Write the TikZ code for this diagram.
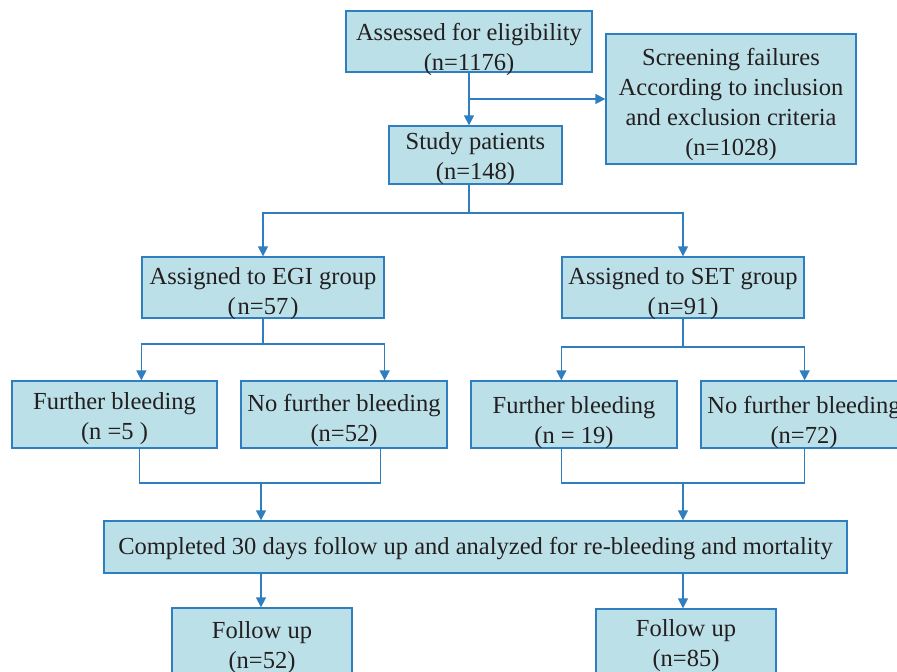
\documentclass[tikz,border=0pt]{standalone}
\usepackage{fontspec}
\setmainfont{Liberation Serif}
\usetikzlibrary{arrows.meta}
\definecolor{boxfill}{RGB}{188,224,232}
\definecolor{boxline}{RGB}{46,126,192}
\definecolor{txt}{RGB}{35,31,32}
\newcommand{\btext}[2]{\raisebox{-\dimexpr#1+2pt\relax}[0pt][0pt]{\begin{tabular}{@{}c@{}}#2\end{tabular}}}
\tikzset{
  box/.style={draw=boxline, fill=boxfill, line width=1.3pt, inner sep=0pt,
    text=txt, font=\fontsize{24.5}{30}\selectfont},
  link/.style={draw=boxline, line width=1.3pt},
  arr/.style={link, -{Triangle[length=10pt,width=10pt]}}
}
\begin{document}
\begin{tikzpicture}[x=1pt,y=-1pt]
\useasboundingbox (0,0) rectangle (897,672);
\node[box, minimum width=246pt, minimum height=61pt] (assess) at (469,41.5) {\btext{12pt}{Assessed for eligibility\\(n=1176)}};
\node[box, minimum width=250pt, minimum height=130pt] (screen) at (731,99) {\btext{9.5pt}{Screening failures\\According to inclusion\\and exclusion criteria\\(n=1028)}};
\node[box, minimum width=173pt, minimum height=58pt] (study) at (475.5,155) {\btext{8pt}{Study patients\\(n=148)}};
\node[box, minimum width=242pt, minimum height=61pt] (egi) at (263,287.5) {\btext{10pt}{Assigned to EGI group\\(\kern2pt n=57\kern2pt)}};
\node[box, minimum width=242pt, minimum height=61pt] (set) at (683,287.5) {\btext{10pt}{Assigned to SET group\\(\kern2pt n=91\kern2pt)}};
\node[box, minimum width=205pt, minimum height=67pt] (fb1) at (114.5,414.5) {\btext{8.5pt}{Further bleeding\\(n =5 )}};
\node[box, minimum width=206pt, minimum height=67pt] (nfb1) at (344,414.5) {\btext{10.5pt}{No further bleeding\\(n=52)}};
\node[box, minimum width=206pt, minimum height=67pt] (fb2) at (574,414.5) {\btext{12pt}{Further bleeding\\(n = 19)}};
\node[box, minimum width=206pt, minimum height=67pt] (nfb2) at (804,414.5) {\btext{12pt}{No further bleeding\\(n=72)}};
\node[box, minimum width=743pt, minimum height=52pt] (comp) at (475.5,547) {\btext{6pt}{Completed 30 days follow up and analyzed for re-bleeding and mortality}};
\node[box, minimum width=180pt, minimum height=80pt] (fu1) at (262,648) {\btext{4pt}{Follow up\\(n=52)}};
\node[box, minimum width=180pt, minimum height=76pt] (fu2) at (686,647) {\btext{2.5pt}{Follow up\\(n=85)}};
\coordinate (sj) at (469,213);
\coordinate (ej) at (263,344);
\coordinate (tj) at (683,347);
\coordinate (eb) at (261,483);
\coordinate (sb) at (683,483);
% top
\draw[arr] (assess.south) -- (assess.south |- study.north);
\draw[arr] (assess.south |- screen.west) -- (screen.west);
\draw[link] (assess.south |- study.south) -- (sj);
\draw[arr] (sj) -| (egi.north);
\draw[arr] (sj) -| (set.north);
% EGI branch
\draw[link] (egi.south) -- (ej);
\draw[arr] (ej) -| (egi.west |- fb1.north);
\draw[arr] (ej) -| (egi.east |- nfb1.north);
% SET branch
\draw[link] (set.south) -- (tj);
\draw[arr] (tj) -| (set.west |- fb2.north);
\draw[arr] (tj) -| (set.east |- nfb2.north);
% merge
\draw[link] ([xshift=-2pt]egi.west |- fb1.south) |- ([xshift=-4pt]egi.east |- eb) -- ([xshift=-4pt]egi.east |- nfb1.south);
\draw[arr] (eb) -- (eb |- comp.north);
\draw[link] (set.west |- fb2.south) |- (set.east |- sb) -- (set.east |- nfb2.south);
\draw[arr] (sb) -- (sb |- comp.north);
\draw[arr] (eb |- comp.south) -- (eb |- fu1.north);
\draw[arr] (sb |- comp.south) -- (sb |- fu2.north);
\end{tikzpicture}
\end{document}
